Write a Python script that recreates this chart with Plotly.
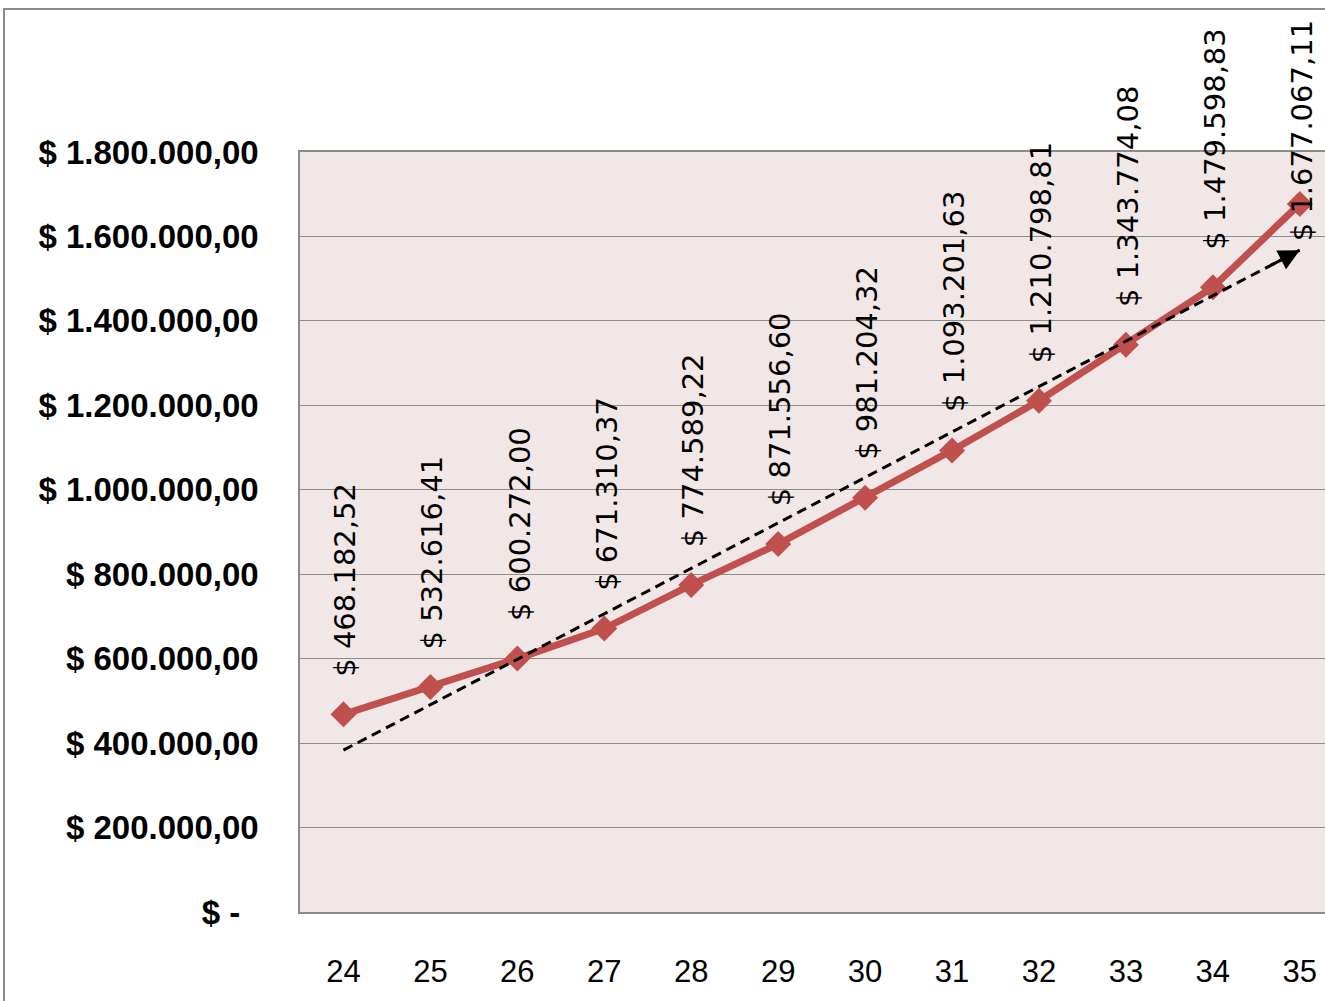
import numpy as np
import plotly.graph_objects as go

ages = [24, 25, 26, 27, 28, 29, 30, 31, 32, 33, 34, 35]
values = [468182.52, 532616.41, 600272.00, 671310.37, 774589.22, 871556.60,
          981204.32, 1093201.63, 1210798.81, 1343774.08, 1479598.83, 1677067.11]
y_ticks = [0, 200000, 400000, 600000, 800000, 1000000, 1200000, 1400000, 1600000, 1800000]
y_tick_text = ["$ -\u00a0\u00a0", "$ 200.000,00", "$ 400.000,00", "$ 600.000,00", "$ 800.000,00",
               "$ 1.000.000,00", "$ 1.200.000,00", "$ 1.400.000,00", "$ 1.600.000,00",
               "$ 1.800.000,00"]


def fmt(v):
    s = f"{v:,.2f}"
    s = s.replace(",", "X").replace(".", ",").replace("X", ".")
    return "$ " + s


W, H = 1325, 1001
L, T, B = 300, 152, 89
plot_h = H - T - B
YMAX = 1800000

# linear trendline (least squares) as in the original chart
coef = np.polyfit(ages, values, 1)
trend_x = [ages[0], ages[-1]]
trend_y = [float(np.polyval(coef, a)) for a in trend_x]

red = "#C0504D"
fig = go.Figure()
fig.add_trace(go.Scatter(x=ages, y=values, mode="lines+markers",
                         line=dict(color=red, width=7),
                         marker=dict(symbol="diamond", size=20, color=red),
                         hoverinfo="skip", showlegend=False))
fig.add_trace(go.Scatter(x=trend_x, y=trend_y, mode="lines",
                         line=dict(color="black", width=3, dash="10px,6px"),
                         hoverinfo="skip", showlegend=False))

annotations = []
FS = 29
for a, v in zip(ages, values):
    txt = fmt(v)
    py = T + plot_h * (1 - v / YMAX)
    est = sum(0.636 if c.isdigit() or c == "$" else 0.318 for c in txt) * FS
    if py - 40 - est < 18:
        annotations.append(dict(x=a, y=(H - B - 18) / plot_h, yref="paper", xref="x",
                                text=txt, showarrow=False, textangle=-90,
                                xanchor="center", yanchor="top", xshift=2,
                                font=dict(family="DejaVu Sans", size=FS, color="black")))
    else:
        annotations.append(dict(x=a, y=v, xref="x", yref="y", text=txt, showarrow=False,
                                textangle=-90, xanchor="center", yanchor="bottom",
                                yshift=36, xshift=2,
                                font=dict(family="DejaVu Sans", size=FS, color="black")))

# arrow head at the end of the trendline
ax0 = ages[-1] - 0.35
annotations.append(dict(x=trend_x[1], y=trend_y[1], xref="x", yref="y",
                        ax=ax0, ay=float(np.polyval(coef, ax0)), axref="x", ayref="y",
                        showarrow=True, arrowhead=2, arrowsize=1.4, arrowwidth=3,
                        arrowcolor="black", text="", standoff=0))

fig.update_layout(
    width=W, height=H,
    margin=dict(l=L, r=0, t=T, b=B),
    paper_bgcolor="white",
    plot_bgcolor="#F2E7E7",
    annotations=annotations,
    shapes=[dict(type="rect", xref="paper", yref="paper",
                 x0=(4 - L) / (W - L), x1=1.05,
                 y0=-0.2, y1=(H - B - 9) / plot_h,
                 line=dict(color="#8C8C8C", width=2), layer="below")],
)
fig.update_xaxes(range=[23.5, 35.29], tickvals=ages, ticktext=[str(a) for a in ages],
                 showgrid=False, zeroline=False, showline=True, mirror=True,
                 linecolor="#8C8C8C", linewidth=1.5, ticks="", ticklabelstandoff=31,
                 tickfont=dict(family="Liberation Sans", size=31, color="black"))
fig.update_yaxes(range=[0, YMAX], tickvals=y_ticks, ticktext=y_tick_text,
                 showgrid=True, gridcolor="#8C8C8C", gridwidth=1, zeroline=False,
                 showline=True, mirror=False, linecolor="#8C8C8C", linewidth=1.5,
                 ticks="", ticklabelstandoff=33,
                 tickfont=dict(family="Liberation Sans", size=33, color="black"))
fig.update_yaxes(tickfont_weight="bold")

fig.write_html("out.html")
